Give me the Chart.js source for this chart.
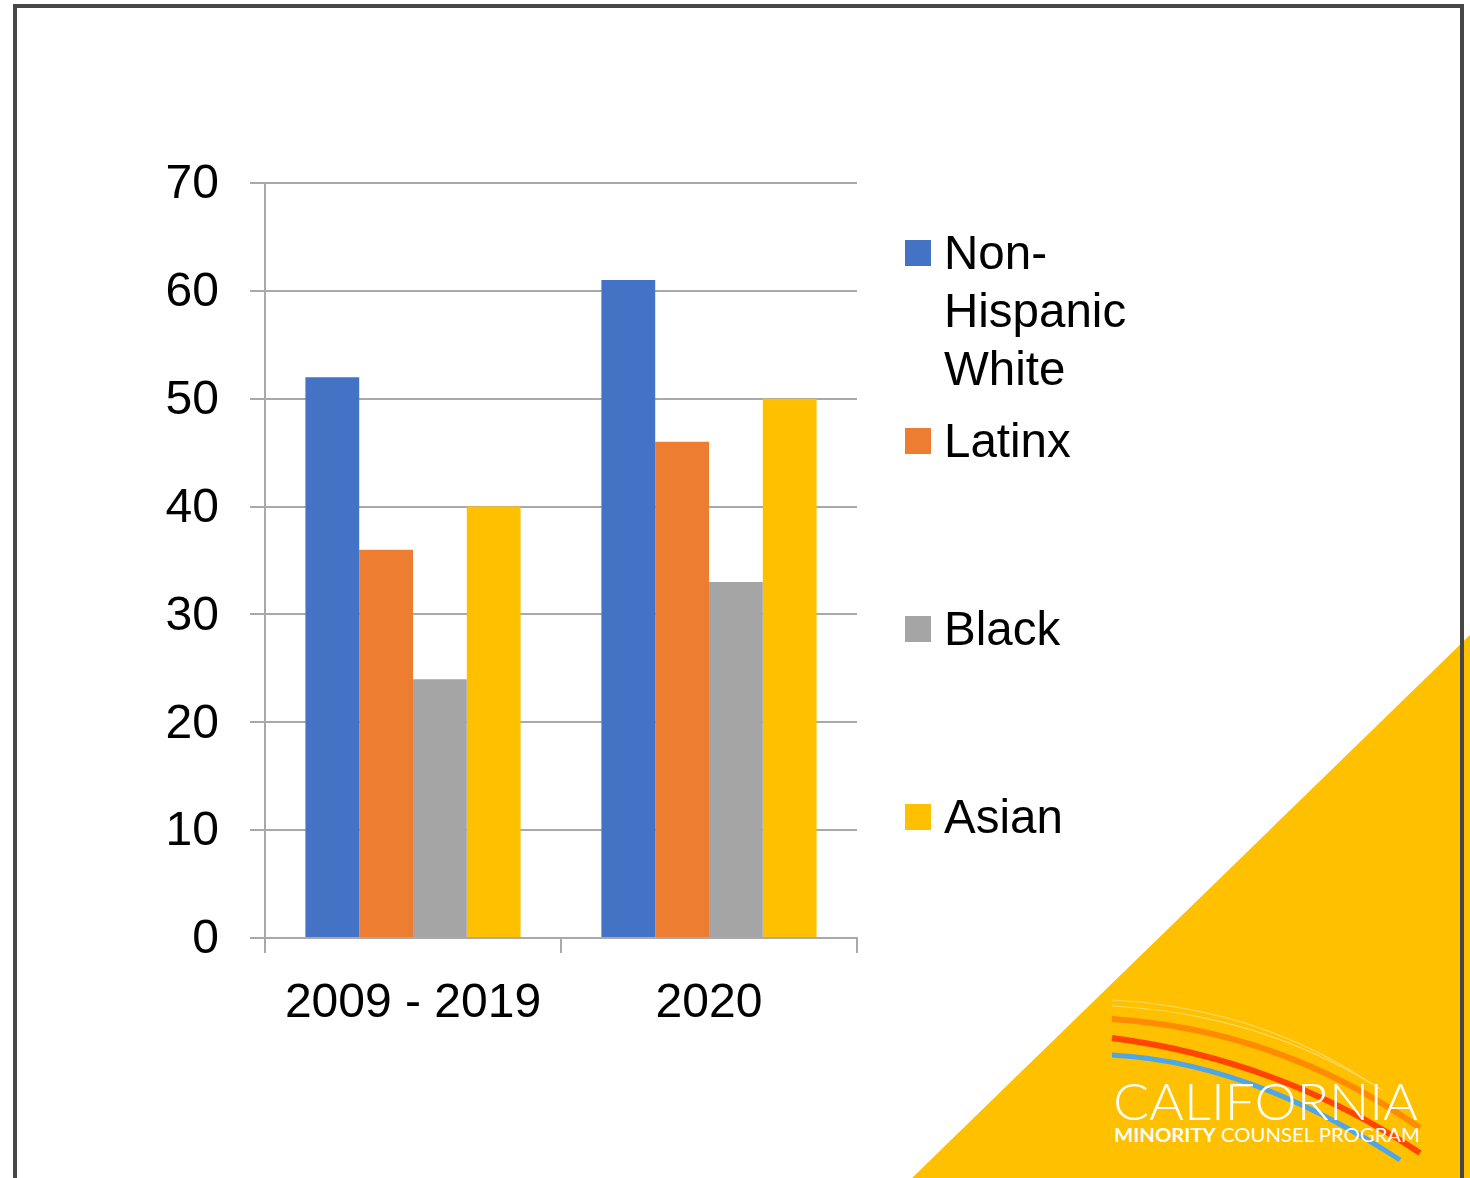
<!DOCTYPE html>
<html>
<head>
<meta charset="utf-8">
<script src="https://cdn.jsdelivr.net/npm/chart.js@4/dist/chart.umd.min.js"></script>
<style>
  html, body { margin: 0; padding: 0; background: #fff; }
  #stage { position: relative; width: 1470px; height: 1178px; overflow: hidden; font-family: "Liberation Sans", Arial, sans-serif; }
  #deco { position: absolute; left: 0; top: 0; }
  #chart { position: absolute; left: 0; top: 0; }
  .frame { position: absolute; background: #474747; }
  .legend { position: absolute; left: 905px; font-size: 47.5px; line-height: 58px; color: #000; }
  .legend .sw { position: absolute; left: 0; width: 26px; height: 26px; }
  .legend .tx { position: absolute; left: 39px; white-space: nowrap; }
</style>
</head>
<body>
<div id="stage">
  <svg id="deco" width="1470" height="1178">
    <polygon points="912,1178 1470,635 1470,1178" fill="#FFC000"/>
    <path d="M1112,1000 Q1260,1008 1372,1084" stroke="#FFD966" stroke-width="1.2" fill="none"/>
    <path d="M1112,1006 Q1262,1014 1382,1090" stroke="#FFD966" stroke-width="1.2" fill="none"/>
    <path d="M1112,1019 Q1280,1030 1420,1128" stroke="#FF8C00" stroke-width="6" fill="none"/>
    <path d="M1112,1038 Q1280,1060 1420,1153" stroke="#FF4500" stroke-width="6" fill="none"/>
    <path d="M1112,1055 Q1250,1062 1400,1160" stroke="#4DA6E8" stroke-width="5" fill="none"/>
    <text x="1113" y="1120" fill="#fff" font-family="Lato, 'Open Sans', sans-serif" font-weight="300" font-size="52" textLength="305" lengthAdjust="spacingAndGlyphs">CALIFORNIA</text>
    <text x="1114" y="1142" fill="#fff" font-family="Lato, 'Open Sans', sans-serif" font-size="19" textLength="306" lengthAdjust="spacingAndGlyphs"><tspan font-weight="bold">MINORITY</tspan> COUNSEL PROGRAM</text>
  </svg>
  <div class="frame" style="left:13px; top:4px; width:4px; height:1174px;"></div>
  <div class="frame" style="left:13px; top:4px; width:1451px; height:4px;"></div>
  <div class="frame" style="left:1460px; top:4px; width:4px; height:1174px;"></div>
  <canvas id="chart" width="1470" height="1178"></canvas>
  <div id="legend"></div>
</div>
<script>
// Chart data
const categories = ['2009 - 2019', '2020'];
const seriesNames = ['Non-Hispanic White', 'Latinx', 'Black', 'Asian'];
const legendLines = [['Non-', 'Hispanic', 'White'], ['Latinx'], ['Black'], ['Asian']];
const nonHispanicWhite = [52, 61];
const latinx = [36, 46];
const black = [24, 33];
const asian = [40, 50];
const yTicks = [0, 10, 20, 30, 40, 50, 60, 70];

const seriesValues = [nonHispanicWhite, latinx, black, asian];
const seriesColors = ['#4472C4', '#ED7D31', '#A5A5A5', '#FFC000'];

// Legend (HTML so that the first label can wrap like the original)
const legendTops = [240, 428, 616, 804];
const legendDiv = document.getElementById('legend');
seriesNames.forEach((name, i) => {
    const item = document.createElement('div');
    item.className = 'legend';
    item.style.top = (legendTops[i] - 16) + 'px';
    item.innerHTML = `<div class="sw" style="top:16px; background:${seriesColors[i]}"></div>` +
        `<div class="tx">${legendLines[i].join('<br>')}</div>`;
    legendDiv.appendChild(item);
});

const gridColor = '#A9A9A9';
const tickFont = { family: '"Liberation Sans", Arial, sans-serif', size: 48 };

new Chart(document.getElementById('chart').getContext('2d'), {
    type: 'bar',
    data: {
        labels: categories,
        datasets: seriesNames.map((name, i) => ({
            label: name,
            data: seriesValues[i],
            backgroundColor: seriesColors[i],
            borderWidth: 0,
            barPercentage: 1,
            categoryPercentage: 0.727
        }))
    },
    options: {
        responsive: false,
        animation: false,
        layout: { padding: { left: 0, top: 183, right: 613, bottom: 0 } },
        plugins: {
            legend: { display: false },
            tooltip: { enabled: false }
        },
        scales: {
            x: {
                offset: true,
                grid: {
                    offset: true,
                    drawOnChartArea: false,
                    drawTicks: true,
                    tickLength: 15,
                    color: gridColor,
                    lineWidth: 2
                },
                border: { display: true, color: gridColor, width: 2 },
                ticks: { color: '#000', font: tickFont, padding: 22, maxRotation: 0 },
                afterFit: s => { s.height = 240; }
            },
            y: {
                min: 0,
                max: 70,
                afterBuildTicks: s => { s.ticks = yTicks.map(v => ({ value: v })); },
                grid: { color: gridColor, lineWidth: 2, tickLength: 15 },
                border: { display: true, color: gridColor, width: 2 },
                ticks: { color: '#000', font: tickFont, padding: 31, labelOffset: 2 },
                afterFit: s => { s.width = 265; }
            }
        }
    }
});
</script>
</body>
</html>
